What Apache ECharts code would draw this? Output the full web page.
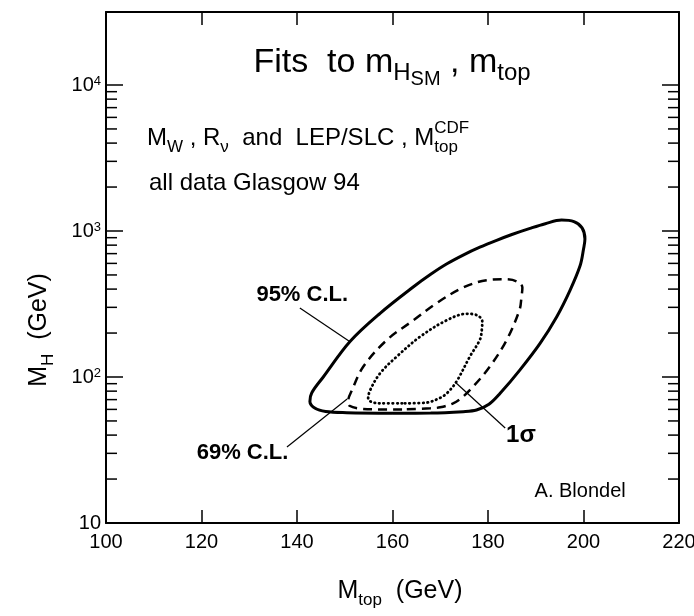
<!DOCTYPE html>
<html><head><meta charset="utf-8">
<script src="https://cdn.jsdelivr.net/npm/echarts@6/dist/echarts.min.js"></script>
<style>html,body{margin:0;padding:0;background:#fff}#c{width:694px;height:616px}</style>
</head><body><div id="c"></div>
<script>
// ---------- data ----------
const xMin = 100, xMax = 220, xStep = 20;
const yMin = 10, yMax = 31623;
const yMinorTicks = [20,30,40,50,60,70,80,90,200,300,400,500,600,700,800,900,2000,3000,4000,5000,6000,7000,8000,9000];

// 95% C.L. contour (solid)
const cl95 = [[160,56.5],[150.4,57],[146,58],[143.8,61],[142.7,68],[143.1,78],[145.5,100],[151.1,175],[157.4,273],[164.4,415],[168,505],[171.4,596],[175,689],[178.3,774],[181.8,863],[185,946],[188.8,1042],[192,1122],[195.4,1189],[198,1160],[199.7,1050],[200.3,880],[200,750],[199.3,580],[197.2,394],[194.4,259],[190.9,170],[186.7,112],[182.5,77],[180.2,65],[177.6,59.4],[174.8,57.9],[168,56.6],[160,56.5]];
// 69% C.L. contour (dashed)
const cl69 = [[162,60],[157.4,60],[153,60.8],[151,63.5],[150.7,68],[151.5,81],[153.9,118],[158.8,179],[164.4,245],[169.2,320],[174.8,410],[179.7,460],[183.5,467],[186,452],[187.2,410],[187,350],[186.6,288],[183.9,179],[180.4,118],[176.9,86],[174.5,72],[172.7,66],[170,62],[167.9,61],[162,60]];
// 1 sigma contour (dotted)
const sigma1 = [[162,66],[157.4,66],[155.6,67.5],[154.9,71],[155.3,81],[157.4,106],[160.9,138],[165.8,189],[171.4,245],[175.5,271],[177.8,264],[178.8,240],[178.7,210],[178.3,180],[176.2,138],[173.4,93],[171.5,78],[170,72],[167,66.7],[162,66]];

// annotation pointers
const ptr95 = [[140.6,297],[151.1,174.5]];
const ptr69 = [[137.9,33.2],[150.5,70.7]];
const ptrSigma = [[173.1,92.4],[183.6,44.7]];

// annotation texts and anchors (data coords)
const annotText = ['95% C.L.', '69% C.L.', '1σ', 'A. Blondel'];
const annotPos = [[150.7,364],[128.6,30.3],[186.9,40.1],[199.3,16.4]];

// ---------- styling ----------
const FAM = '"Liberation Sans", Arial, Helvetica, sans-serif';
const annotStyle = [
  {align:'right', bold:true, size:22},
  {align:'center', bold:true, size:22},
  {align:'center', bold:true, size:24},
  {align:'center', bold:false, size:20}
];

const cv = document.createElement('canvas');
const ctx = cv.getContext('2d');
function fnt(size, bold){ return (bold ? 'bold ' : '') + size + 'px ' + FAM; }
function measure(t, f){ ctx.font = f; ctx.textBaseline = 'alphabetic'; return ctx.measureText(t).width; }
function midOff(f){ ctx.font = f; ctx.textBaseline = 'middle'; const d = ctx.measureText('M').actualBoundingBoxDescent; ctx.textBaseline = 'alphabetic'; return d; }

function run(pieces, align){
  let x = 0, lastStart = 0, maxEnd = 0;
  const els = [];
  pieces.forEach(p => {
    const f = fnt(p.s, p.b);
    let sx = p.stack ? lastStart : x;
    const w = measure(p.t, f);
    els.push({type:'text', x: sx, y: (p.dy || 0) - midOff(f),
      style:{text:p.t, font:f, fill:'#000', align:'left', verticalAlign:'middle'}});
    if (!p.stack) lastStart = sx;
    x = Math.max(x, sx + w);
    maxEnd = Math.max(maxEnd, x);
  });
  const W = maxEnd;
  if (align === 'center') els.forEach(e => e.x -= W/2);
  return els;
}

const titleEls = run([
  {t:'Fits  to m', s:34},
  {t:'H', s:24, dy:8},
  {t:'SM', s:20, dy:13},
  {t:' , m', s:34},
  {t:'top', s:24, dy:8}
], 'center');
const line2Els = run([
  {t:'M', s:24},
  {t:'W', s:17, dy:7},
  {t:' , R', s:24},
  {t:'ν', s:17, dy:7},
  {t:'  and  LEP/SLC , M', s:24},
  {t:'top', s:17, dy:7},
  {t:'CDF', s:17, dy:-12, stack:true}
], 'left');
const line3Els = run([{t:'all data Glasgow 94', s:24}], 'left');
const xTitleEls = run([
  {t:'M', s:25},
  {t:'top', s:17, dy:7},
  {t:'  (GeV)', s:25}
], 'center');
const yTitleEls = run([
  {t:'M', s:25},
  {t:'H', s:17, dy:7},
  {t:'  (GeV)', s:25}
], 'center');

const chart = echarts.init(document.getElementById('c'), null, {renderer:'canvas'});

const axisLineStyle = {color:'#000', width:2};
const tickStyle = {color:'#000', width:1.5};

const option = {
  backgroundColor:'#fff',
  animation:false,
  grid:{left:106, right:15, top:12, bottom:93, outerBoundsMode:'none', containLabel:false},
  xAxis:[
    {type:'value', min:xMin, max:xMax, interval:xStep, position:'bottom',
     axisLine:{show:true, onZero:false, lineStyle:axisLineStyle},
     axisTick:{show:true, inside:true, length:13, lineStyle:tickStyle},
     axisLabel:{show:true, margin:9, fontSize:20, fontFamily:FAM, color:'#000'},
     splitLine:{show:false}},
    {type:'value', min:xMin, max:xMax, interval:xStep, position:'top',
     axisLine:{show:true, onZero:false, lineStyle:axisLineStyle},
     axisTick:{show:true, inside:true, length:13, lineStyle:tickStyle},
     axisLabel:{show:false}, splitLine:{show:false}}
  ],
  yAxis:[
    {type:'log', logBase:10, min:yMin, max:yMax, position:'left',
     axisLine:{show:true, onZero:false, lineStyle:axisLineStyle},
     axisTick:{show:true, inside:true, length:17, lineStyle:tickStyle},
     axisLabel:{show:true, margin:5, showMaxLabel:false,
       formatter: v => {
         const e = Math.log10(v);
         if (Math.abs(e - Math.round(e)) > 1e-6) return '';
         const n = Math.round(e);
         return n === 1 ? '{b|10}' : '{b|10}{s|' + n + '}';
       },
       rich:{
         b:{fontSize:20, lineHeight:20, fontFamily:FAM, color:'#000', verticalAlign:'bottom'},
         s:{fontSize:13, lineHeight:13, fontFamily:FAM, color:'#000', verticalAlign:'top', padding:[0,0,11,0]}
       }},
     splitLine:{show:false}},
    {type:'log', logBase:10, min:yMin, max:yMax, position:'right',
     axisLine:{show:true, onZero:false, lineStyle:axisLineStyle},
     axisTick:{show:true, inside:true, length:17, lineStyle:tickStyle},
     axisLabel:{show:false}, splitLine:{show:false}}
  ],
  graphic:[
    {type:'group', x:392, y:72, children:titleEls},
    {type:'group', x:147, y:145, children:line2Els},
    {type:'group', x:149, y:190, children:line3Els},
    {type:'group', x:400, y:598, children:xTitleEls},
    {type:'group', x:46, y:330, rotation:Math.PI/2, children:yTitleEls}
  ],
  series:[
    {type:'custom', xAxisIndex:0, yAxisIndex:0, silent:true, clip:false,
     data: yMinorTicks.map(v => [xMin, v]),
     renderItem:(params, api) => {
       const v = api.value(1);
       const pL = api.coord([xMin, v]);
       const pR = api.coord([xMax, v]);
       return {type:'group', children:[
         {type:'line', shape:{x1:pL[0], y1:pL[1], x2:pL[0]+11, y2:pL[1]}, style:{stroke:'#000', lineWidth:1.5}},
         {type:'line', shape:{x1:pR[0]-11, y1:pR[1], x2:pR[0], y2:pR[1]}, style:{stroke:'#000', lineWidth:1.5}}
       ]};
     }},
    {type:'line', data:cl95, showSymbol:false, symbol:'none', smooth:0.35,
     lineStyle:{color:'#000', width:3, type:'solid'}},
    {type:'line', data:cl69, showSymbol:false, symbol:'none', smooth:0.35,
     lineStyle:{color:'#000', width:2.5, type:[9,6]}},
    {type:'line', data:sigma1, showSymbol:false, symbol:'none', smooth:0.35,
     lineStyle:{color:'#000', width:2.8, type:[0.5,4], cap:'round'}},
    {type:'line', data:ptr95, showSymbol:false, symbol:'none', lineStyle:{color:'#000', width:1.2}},
    {type:'line', data:ptr69, showSymbol:false, symbol:'none', lineStyle:{color:'#000', width:1.2}},
    {type:'line', data:ptrSigma, showSymbol:false, symbol:'none', lineStyle:{color:'#000', width:1.2}},
    {type:'custom', xAxisIndex:0, yAxisIndex:0, silent:true, clip:false,
     data: annotPos.map((p, i) => [p[0], p[1], i]),
     renderItem:(params, api) => {
       const i = api.value(2);
       const pt = api.coord([api.value(0), api.value(1)]);
       const st = annotStyle[i];
       return {type:'text', x:pt[0], y:pt[1],
         style:{text:annotText[i], font:fnt(st.size, st.bold), fill:'#000', align:st.align, verticalAlign:'middle'}};
     }}
  ]
};
chart.setOption(option);
</script>
</body></html>
